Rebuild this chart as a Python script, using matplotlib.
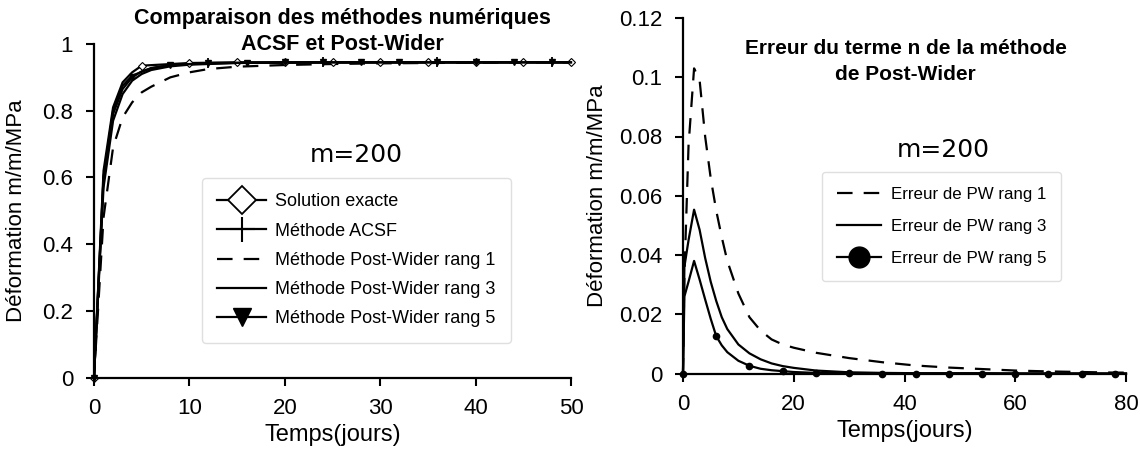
import matplotlib
matplotlib.use("Agg")
import matplotlib.pyplot as plt
from matplotlib.lines import Line2D

plt.rcParams['font.family'] = ['Liberation Sans', 'DejaVu Sans']

# ---------------- data: left panel ----------------
exact_t = [0, 1, 2, 3, 4, 5, 10, 15, 20, 25, 30, 35, 40, 45, 50]
exact_y = [0, 0.62, 0.81, 0.885, 0.915, 0.935, 0.943, 0.945, 0.945, 0.945, 0.945, 0.945, 0.945, 0.945, 0.945]

acsf_t = [0, 1, 2, 3, 4, 6, 8, 12, 24, 36, 48, 50]
acsf_y = [0, 0.60, 0.80, 0.875, 0.905, 0.928, 0.937, 0.943, 0.945, 0.945, 0.945, 0.945]

pw1_t = [0, 1, 2, 3, 4, 5, 6, 8, 10, 12, 15, 20, 25, 30, 40, 50]
pw1_y = [0, 0.48, 0.69, 0.78, 0.825, 0.855, 0.872, 0.90, 0.915, 0.925, 0.932, 0.937, 0.940, 0.942, 0.944, 0.945]

pw3_t = [0, 1, 2, 3, 4, 5, 6, 8, 10, 15, 20, 30, 40, 50]
pw3_y = [0, 0.57, 0.77, 0.85, 0.89, 0.91, 0.922, 0.933, 0.938, 0.943, 0.944, 0.945, 0.945, 0.945]

pw5_t = [0, 1, 2, 3, 4, 5, 6, 8, 12, 16, 20, 24, 28, 32, 36, 40, 44, 48, 50]
pw5_y = [0, 0.60, 0.79, 0.865, 0.90, 0.918, 0.927, 0.937, 0.942, 0.944, 0.945, 0.945, 0.945,
         0.945, 0.945, 0.945, 0.945, 0.945, 0.945]

left_yticks = [0, 0.2, 0.4, 0.6, 0.8, 1]
left_yticklabels = ['0', '0.2', '0.4', '0.6', '0.8', '1']
left_xticks = [0, 10, 20, 30, 40, 50]

left_labels = ['Solution exacte', 'Méthode ACSF', 'Méthode Post-Wider rang 1',
               'Méthode Post-Wider rang 3', 'Méthode Post-Wider rang 5']

# ---------------- data: right panel ----------------
err_t = [0, 0.25, 1, 2, 3, 4, 5, 6, 7, 8, 10, 12, 14, 16, 18, 20, 24, 30, 36, 42, 48, 54,
         60, 66, 72, 78, 80]
err_pw1 = [0, 0.033, 0.077, 0.103, 0.099, 0.080, 0.066, 0.055, 0.046, 0.038, 0.027, 0.019,
           0.0145, 0.0115, 0.0098, 0.0087, 0.0070, 0.0052, 0.0038, 0.0027, 0.0020, 0.0015,
           0.0010, 0.0007, 0.0005, 0.0003, 0.0003]
err_pw3 = [0, 0.036, 0.045, 0.0553, 0.0485, 0.039, 0.031, 0.0245, 0.019, 0.015, 0.0098,
           0.0068, 0.0048, 0.0034, 0.0025, 0.0019, 0.0010, 0.0004, 0.0002, 0.0001, 0.0001,
           0.0001, 0.0, 0.0, 0.0, 0.0, 0.0]
err_pw5 = [0, 0.026, 0.031, 0.038, 0.0317, 0.025, 0.0185, 0.0126, 0.0095, 0.0072, 0.0043,
           0.0026, 0.0016, 0.0011, 0.0008, 0.0005, 0.0002, 0.0001, 0.0, 0.0, 0.0, 0.0,
           0.0, 0.0, 0.0, 0.0, 0.0]

right_yticks = [0, 0.02, 0.04, 0.06, 0.08, 0.1, 0.12]
right_yticklabels = ['0', '0.02', '0.04', '0.06', '0.08', '0.1', '0.12']
right_xticks = [0, 20, 40, 60, 80]

right_labels = ['Erreur de PW rang 1', 'Erreur de PW rang 3', 'Erreur de PW rang 5']

# ---------------- figure ----------------
W, H = 1140, 453
fig = plt.figure(figsize=(W / 100, H / 100), dpi=100)


def px_axes(x0, y0, x1, y1):
    return fig.add_axes([x0 / W, 1 - y1 / H, (x1 - x0) / W, (y1 - y0) / H])


axL = px_axes(94, 44, 571, 377.5)
axR = px_axes(683, 18, 1126, 373.5)

LW = 1.6
DASH = (0, (7, 5))


def style_axes(ax):
    for s in ['top', 'right']:
        ax.spines[s].set_visible(False)
    for s in ['left', 'bottom']:
        ax.spines[s].set_linewidth(1.6)
    ax.tick_params(direction='out', length=6, width=1.5, labelsize=16, pad=9)


def idx_every(ts, step):
    return [i for i, t in enumerate(ts) if t % step == 0]


# left plot
axL.plot(exact_t, exact_y, color='black', lw=LW, marker='D', ms=4, mfc='white', mew=0.8,
         markevery=idx_every(exact_t, 5), clip_on=False, zorder=3)
axL.plot(acsf_t, acsf_y, color='black', lw=LW, marker='+', ms=7, mew=1.3,
         markevery=idx_every(acsf_t, 12), clip_on=False, zorder=3)
axL.plot(pw1_t, pw1_y, color='black', lw=LW, ls=DASH, clip_on=False)
axL.plot(pw3_t, pw3_y, color='black', lw=LW, clip_on=False)
axL.plot(pw5_t, pw5_y, color='black', lw=LW, marker='v', ms=4.5,
         markevery=idx_every(pw5_t, 4), clip_on=False, zorder=3)

axL.set_xlim(0, 50)
axL.set_ylim(0, 1)
axL.set_xticks(left_xticks)
axL.set_yticks(left_yticks)
axL.set_yticklabels(left_yticklabels)
style_axes(axL)
axL.set_xlabel('Temps(jours)', fontsize=17, labelpad=3)
axL.set_ylabel('Déformation m/m/MPa', fontsize=16)
axL.yaxis.set_label_coords(-0.14, 0.5)

fig.text(342 / W, 1 - 31.5 / H, 'Comparaison des méthodes numériques\nACSF et Post-Wider',
         ha='center', va='center', fontsize=15.5, fontweight='bold', linespacing=1.35)
axL.text(27.5, 0.667, 'm=200', family='DejaVu Sans', fontsize=18, ha='center', va='center')

hL = [
    Line2D([], [], color='black', lw=LW, marker='D', ms=14, mfc='white', mew=1.3),
    Line2D([], [], color='black', lw=LW, marker='+', ms=18, mew=1.5),
    Line2D([], [], color='black', lw=LW, ls=DASH),
    Line2D([], [], color='black', lw=LW),
    Line2D([], [], color='black', lw=LW, marker='v', ms=13),
]
legL = axL.legend(hL, left_labels, loc='upper left', bbox_to_anchor=(202 / W, 1 - 178 / H),
                  bbox_transform=fig.transFigure, borderaxespad=0, fontsize=13,
                  handlelength=2.7, handletextpad=0.5, labelspacing=0.68, borderpad=0.85,
                  fancybox=True, frameon=True)
legL.get_frame().set_edgecolor('#d8d8d8')
legL.get_frame().set_linewidth(1.0)

# right plot
axR.plot(err_t, err_pw1, color='black', lw=LW, ls=DASH, clip_on=False)
axR.plot(err_t, err_pw3, color='black', lw=LW, clip_on=False)
axR.plot(err_t, err_pw5, color='black', lw=LW, marker='o', ms=4.5,
         markevery=idx_every(err_t, 6), clip_on=False, zorder=3)

axR.set_xlim(0, 80)
axR.set_ylim(0, 0.12)
axR.set_xticks(right_xticks)
axR.set_yticks(right_yticks)
axR.set_yticklabels(right_yticklabels)
style_axes(axR)
axR.set_xlabel('Temps(jours)', fontsize=17, labelpad=3)
axR.set_ylabel('Déformation m/m/MPa', fontsize=16)
axR.yaxis.set_label_coords(-0.169, 0.5)

axR.text(0.503, 0.878, 'Erreur du terme n de la méthode\nde Post-Wider', transform=axR.transAxes,
         ha='center', va='center', fontsize=15, fontweight='bold', linespacing=1.45)
axR.text(47, 0.0755, 'm=200', family='DejaVu Sans', fontsize=18, ha='center', va='center')

hR = [
    Line2D([], [], color='black', lw=LW, ls=DASH),
    Line2D([], [], color='black', lw=LW),
    Line2D([], [], color='black', lw=LW, marker='o', ms=15),
]
legR = axR.legend(hR, right_labels, loc='upper left', bbox_to_anchor=(822 / W, 1 - 172 / H),
                  bbox_transform=fig.transFigure, borderaxespad=0, fontsize=12.2,
                  handlelength=2.6, handletextpad=0.55, labelspacing=1.0, borderpad=0.9,
                  fancybox=True, frameon=True)
legR.get_frame().set_edgecolor('#d8d8d8')
legR.get_frame().set_linewidth(1.0)

fig.savefig('out.png', dpi=100)
